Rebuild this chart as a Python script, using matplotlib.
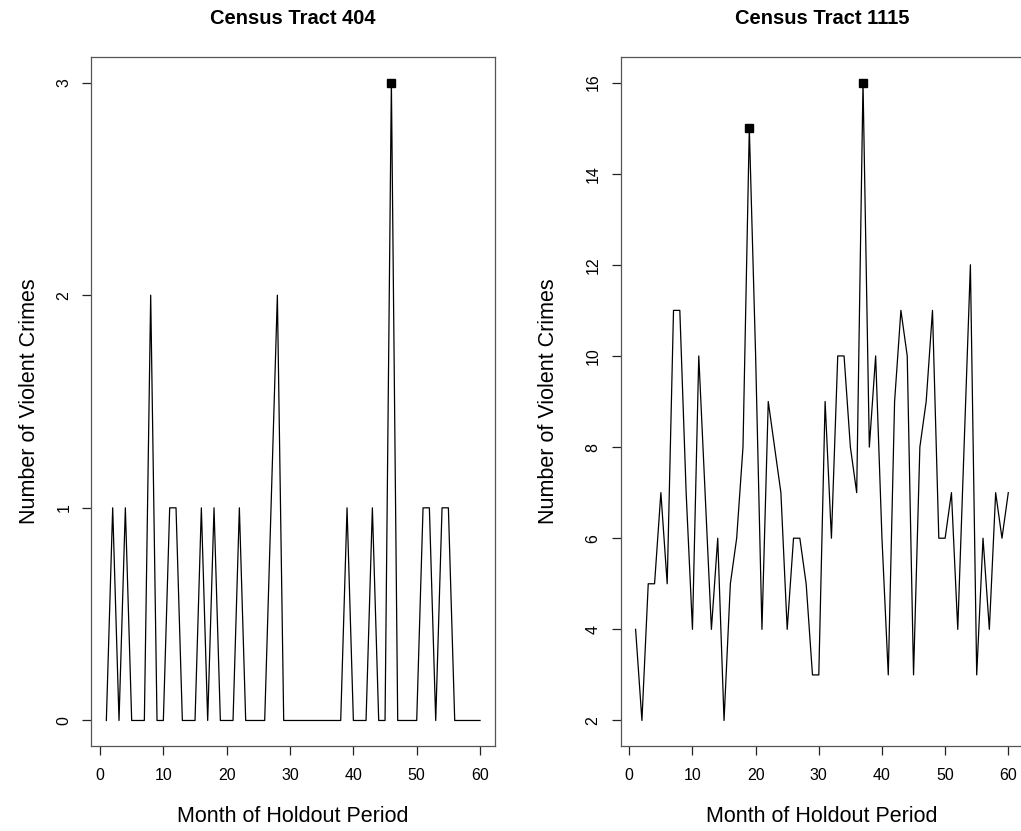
import numpy as np
import matplotlib.pyplot as plt

plt.rcParams['font.family'] = ['Liberation Sans', 'DejaVu Sans']

months = np.arange(1, 61)

# Census Tract 404, monthly violent crime counts
tract404 = [0, 1, 0, 1, 0, 0, 0, 2, 0, 0,
            1, 1, 0, 0, 0, 1, 0, 1, 0, 0,
            0, 1, 0, 0, 0, 0, 1, 2, 0, 0,
            0, 0, 0, 0, 0, 0, 0, 0, 1, 0,
            0, 0, 1, 0, 0, 3, 0, 0, 0, 0,
            1, 1, 0, 1, 1, 0, 0, 0, 0, 0]

# Census Tract 1115
tract1115 = [4, 2, 5, 5, 7, 5, 11, 11, 7, 4,
             10, 7, 4, 6, 2, 5, 6, 8, 15, 10,
             4, 9, 8, 7, 4, 6, 6, 5, 3, 3,
             9, 6, 10, 10, 8, 7, 16, 8, 10, 6,
             3, 9, 11, 10, 3, 8, 9, 11, 6, 6,
             7, 4, 8, 12, 3, 6, 4, 7, 6, 7]

# months flagged with a square marker
flagged = [[46], [19, 37]]

titles = ["Census Tract 404", "Census Tract 1115"]
yticks = [np.arange(0, 4, 1), np.arange(2, 17, 2)]
xticks = np.arange(0, 61, 10)

W, H = 1021, 831
fig = plt.figure(figsize=(W / 100, H / 100), dpi=100)

# panel boxes in pixels: left, right, top, bottom
boxes = [(91.4, 495.0, 57, 746), (620.7, 1023.2, 57, 746)]
ylab_x = [30, 548]

for i, (vals, title) in enumerate(zip([tract404, tract1115], titles)):
    l, r, t, b = boxes[i]
    ax = fig.add_axes([l / W, 1 - b / H, (r - l) / W, (b - t) / H])
    vals = np.array(vals)
    ax.plot(months, vals, color='black', lw=0.9)
    idx = np.array(flagged[i]) - 1
    ax.plot(months[idx], vals[idx], 's', color='black', ms=6)

    lo, hi = yticks[i][0], yticks[i][-1]
    ext = (hi - lo) * 0.04
    ax.set_ylim(lo - ext, hi + ext)
    ax.set_xlim(1 - 59 * 0.04, 60 + 59 * 0.04)
    ax.set_xticks(xticks)
    ax.set_yticks(yticks[i])
    for lab in ax.get_yticklabels():
        lab.set_rotation(90)
        lab.set_va('center')
    ax.tick_params(length=6.5, width=0.9, labelsize=11.5, pad=9, color='#222222')
    ax.tick_params(axis='y', pad=8)
    for s in ax.spines.values():
        s.set_color('#555555')
        s.set_linewidth(0.9)

    ax.set_title(title, fontsize=14.5, fontweight='bold', y=1 + 39 / (b - t), va='center', pad=0)
    ax.set_xlabel("Month of Holdout Period", fontsize=15.5, va='center', ha='center')
    ax.xaxis.set_label_coords(0.5, -(817 - b) / (b - t))
    ax.set_ylabel("Number of Violent Crimes", fontsize=15.5, va='center', ha='center')
    ax.yaxis.set_label_coords((ylab_x[i] - l) / (r - l), 0.5)

fig.savefig("out.png", dpi=100)
